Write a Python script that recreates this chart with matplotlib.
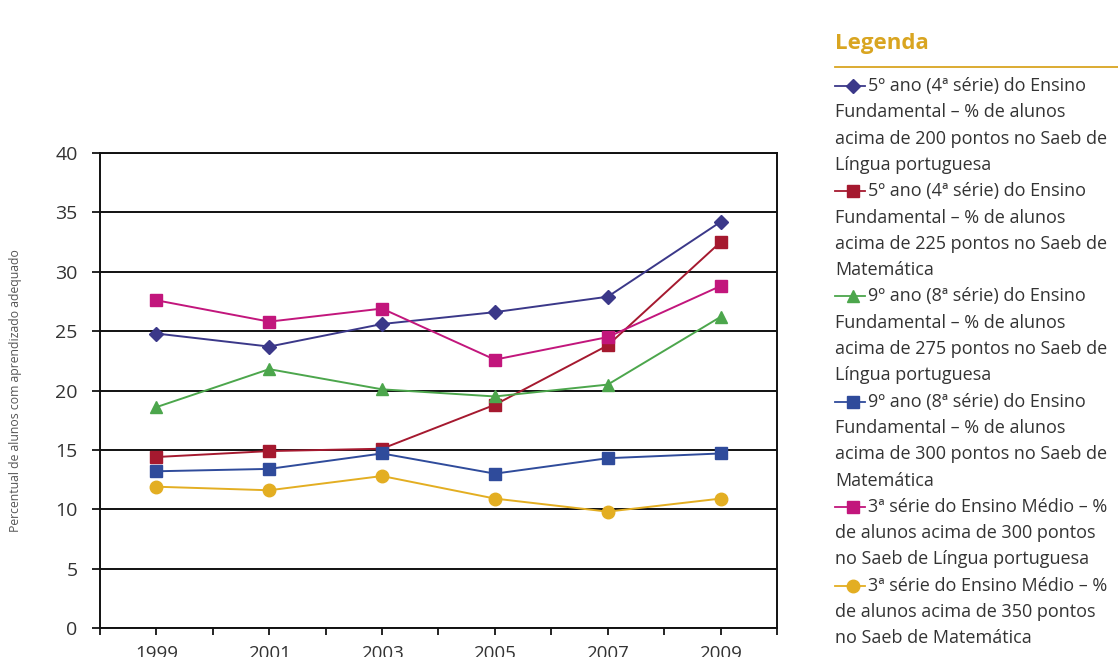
import numpy as np
import matplotlib
matplotlib.use("Agg")
import matplotlib.pyplot as plt
from matplotlib.lines import Line2D

plt.rcParams["font.family"] = ["Open Sans", "DejaVu Sans"]

# Data
years = [1999, 2001, 2003, 2005, 2007, 2009]
lp5_200 = [24.8, 23.7, 25.6, 26.6, 27.9, 34.2]
mat5_225 = [14.4, 14.9, 15.1, 18.8, 23.8, 32.5]
lp9_275 = [18.6, 21.8, 20.1, 19.5, 20.5, 26.2]
mat9_300 = [13.2, 13.4, 14.7, 13.0, 14.3, 14.7]
lpem_300 = [27.6, 25.8, 26.9, 22.6, 24.5, 28.8]
matem_350 = [11.9, 11.6, 12.8, 10.9, 9.8, 10.9]

series = [
    (lp5_200, "#3b3889", "D", 7.5,
     ["5º ano (4ª série) do Ensino", "Fundamental – % de alunos",
      "acima de 200 pontos no Saeb de", "Língua portuguesa"]),
    (mat5_225, "#a5192f", "s", 8.5,
     ["5º ano (4ª série) do Ensino", "Fundamental – % de alunos",
      "acima de 225 pontos no Saeb de", "Matemática"]),
    (lp9_275, "#4ca64c", "^", 9,
     ["9º ano (8ª série) do Ensino", "Fundamental – % de alunos",
      "acima de 275 pontos no Saeb de", "Língua portuguesa"]),
    (mat9_300, "#2f4b9b", "s", 8.5,
     ["9º ano (8ª série) do Ensino", "Fundamental – % de alunos",
      "acima de 300 pontos no Saeb de", "Matemática"]),
    (lpem_300, "#c2167c", "s", 8.5,
     ["3ª série do Ensino Médio – %", "de alunos acima de 300 pontos",
      "no Saeb de Língua portuguesa"]),
    (matem_350, "#e3ae22", "o", 9,
     ["3ª série do Ensino Médio – %", "de alunos acima de 350 pontos",
      "no Saeb de Matemática"]),
]

fig = plt.figure(figsize=(11.18, 6.57), dpi=100)
ax = fig.add_axes([0.0894, 0.0441, 0.6056, 0.723])

for vals, color, mk, ms, _ in series:
    ax.plot(years, vals, color=color, marker=mk, markersize=ms, linewidth=1.4,
            markeredgecolor=color, zorder=3)

ax.set_xlim(1998, 2010)
ax.set_ylim(0, 40)
ax.set_yticks(np.arange(0, 41, 5))
ax.set_xticks(years)
ax.set_xticks(np.arange(1998, 2011, 2), minor=True)
ax.yaxis.grid(True, color="#111111", linewidth=1.4)
ax.set_axisbelow(True)
for s in ax.spines.values():
    s.set_color("#111111")
    s.set_linewidth(1.4)
ax.tick_params(axis="y", direction="out", length=6, width=1.2, labelsize=14,
               labelcolor="#333333", pad=10)
ax.tick_params(axis="x", which="both", direction="out", length=5, width=1.2,
               labelsize=13.5, labelcolor="#333333", pad=7)
ax.set_ylabel("Percentual de alunos com aprendizado adequado", fontsize=8.8,
              color="#555555", labelpad=24)

# Legend panel on the right
fig.text(0.7469, 0.934, "Legenda", fontsize=16, fontweight="bold", color="#d9a521",
         va="center", ha="left")
fig.add_artist(Line2D([0.7469, 1.0], [0.898, 0.898], color="#d9a521", linewidth=1.3))

line_h = 26.3 / 657
y = 1 - 86 / 657
for vals, color, mk, ms, lines in series:
    fig.add_artist(Line2D([0.7469, 0.7737], [y, y], color=color, linewidth=1.3))
    fig.add_artist(Line2D([0.763], [y], color=color, marker=mk,
                          markersize=ms, markeredgecolor=color))
    for i, t in enumerate(lines):
        xt = 0.7764 if i == 0 else 0.7469
        fig.text(xt, y, t, fontsize=13, color="#333333", va="center", ha="left")
        y -= line_h

fig.savefig("out.png", dpi=100)
